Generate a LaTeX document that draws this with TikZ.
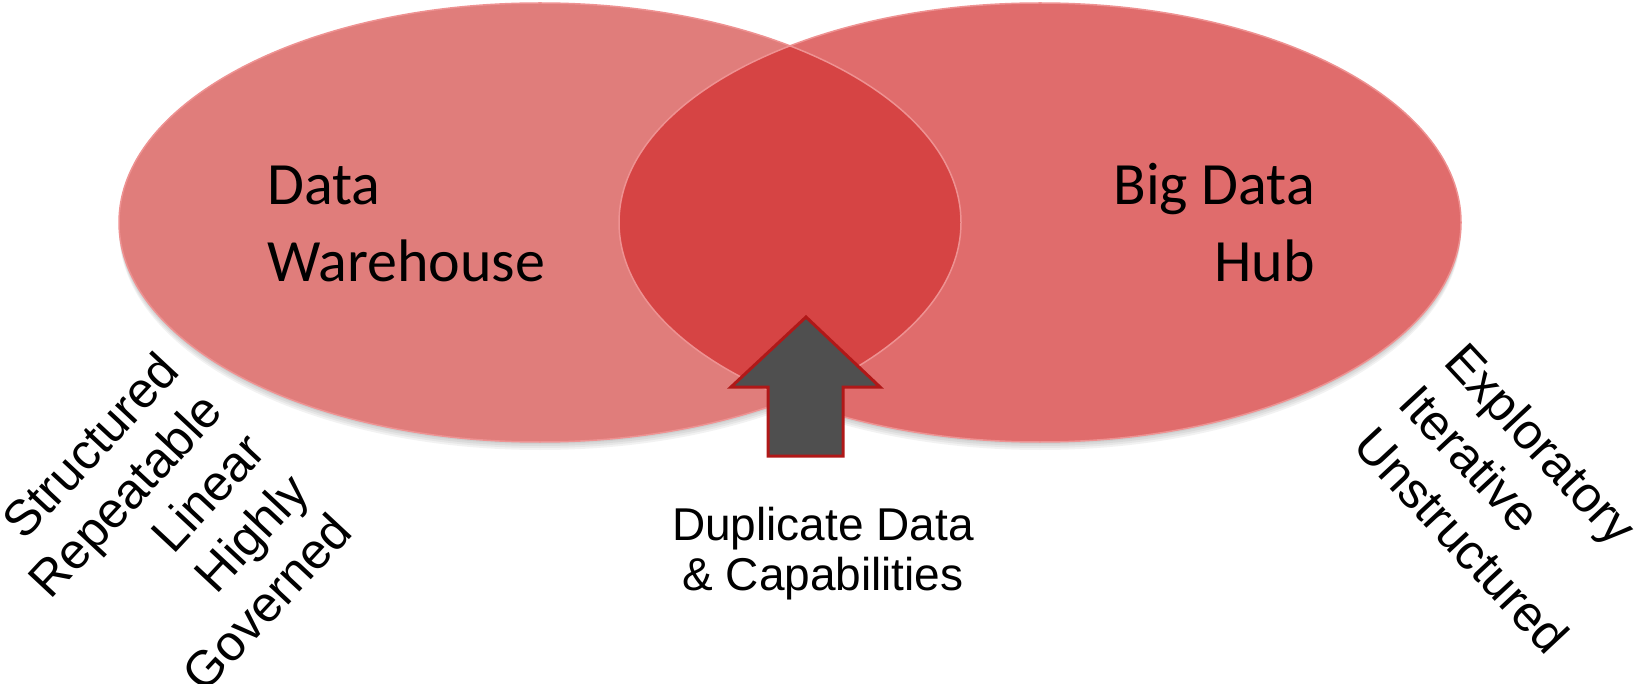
\documentclass[tikz,border=0pt]{standalone}
\usepackage{fontspec}
\setmainfont{Liberation Sans}
\newfontfamily\calibri{Carlito}
\usetikzlibrary{positioning}
\definecolor{dwfill}{RGB}{224,125,123}
\definecolor{hubfill}{RGB}{224,108,108}
\definecolor{lensfill}{RGB}{214,68,68}
\definecolor{rimcol}{RGB}{238,146,146}
\definecolor{arrowgray}{RGB}{79,79,79}
\definecolor{arrowred}{RGB}{176,24,24}
\tikzset{
    bubble/.style = {x radius=421, y radius=219.5},
    rim/.style = {draw=rimcol, line width=1.5pt},
    hublabel/.style = {inner sep=0pt, font=\calibri\fontsize{60}{77}\selectfont},
    sidelabel/.style = {inner sep=0pt, font=\fontsize{50}{60}\selectfont},
    duplabel/.style = {inner sep=0pt, align=center, font=\fontsize{46}{50}\selectfont},
}

\begin{document}
\begin{tikzpicture}[x=1pt,y=-1pt]
\useasboundingbox (0,0) rectangle (1643,684);
\coordinate (dwc) at (540,222.5);
\coordinate (hubc) at (1040,222.5);
% soft shadow
\foreach \d in {2,4,6,8}
    \fill[black, opacity=0.05] ([yshift=-\d pt]dwc) ellipse [bubble]
        ([yshift=-\d pt]hubc) ellipse [bubble];
% the two bubbles and their overlap
\fill[dwfill] (dwc) ellipse [bubble];
\fill[hubfill] (hubc) ellipse [bubble];
\begin{scope}
    \clip (dwc) ellipse [bubble];
    \fill[lensfill] (hubc) ellipse [bubble];
\end{scope}
\draw[rim] (dwc) ellipse [bubble];
\draw[rim] (hubc) ellipse [bubble];

\node (dw) [hublabel, align=left, anchor=base west] at (267,282) {Data\\Warehouse};
\node (hub) [hublabel, align=right, anchor=base east] at (1315,282) {Big Data\\Hub};

% block arrow into the overlap
\coordinate (tip) at (806,317);
\draw[arrowred, fill=arrowgray, line width=3pt, line join=miter]
    (tip) -- (880,387) -- (843,387) -- (843,456)
    -- (768,456) -- (768,387) -- (731,387) -- cycle;
\node (dup) [duplabel, anchor=base] at (823,590) {Duplicate Data\\\& Capabilities};

\foreach \w [count=\i from 0] in {Structured,Repeatable,Linear,Highly,Governed}
    \node (left\i) [sidelabel, rotate=47, anchor=base east] at ({182+43.1*\i},{373+40.2*\i}) {\w};
\foreach \w [count=\i from 0] in {Exploratory,Iterative,Unstructured}
    \node (right\i) [sidelabel, rotate=-47, anchor=base west] at ({1442-45.3*\i},{363+42.3*\i}) {\w};
\end{tikzpicture}
\end{document}
